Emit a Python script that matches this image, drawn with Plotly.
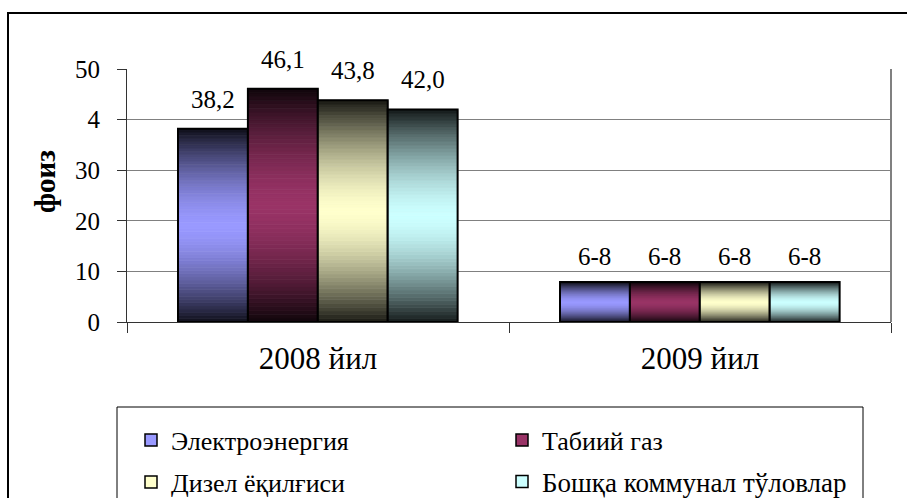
import plotly.graph_objects as go

categories = ["2008 йил", "2009 йил"]
series_names = ["Электроэнергия", "Табиий газ", "Дизел ёқилғиси", "Бошқа коммунал тўловлар"]
series_values = [
    [38.2, 7.9],
    [46.1, 7.9],
    [43.8, 7.9],
    [42.0, 7.9],
]
value_labels = [
    ["38,2", "6-8"],
    ["46,1", "6-8"],
    ["43,8", "6-8"],
    ["42,0", "6-8"],
]
series_colors = [(153, 153, 255), (153, 51, 102), (255, 255, 204), (204, 255, 255)]
ytick_vals = [0, 10, 20, 30, 40, 50]
ytick_text = ["0", "10", "20", "30", "4", "50"]

FONT = "Liberation Serif, Times New Roman, DejaVu Serif, serif"
W, H = 907, 498
L, R, T, B = 127, 16, 69, 176
PW, PH = W - L - R, H - T - B

def px_x(px):
    return (px - L) / PW

def px_y(py):
    return (H - B - py) / PH

BAR_W = 0.183
GROUP_START = -0.3665
NSEG = 60

def shade(rgb, t):
    g = 1 - abs(2 * t - 1) ** 1.6
    f = 0.1 + 0.9 * g
    r, gg, b = [int(round(c * f)) for c in rgb]
    return f"rgb({r},{gg},{b})"

legend_ids = ["legend", "legend2", "legend3", "legend4"]
legend_pos = [(131, 440), (502, 440), (131, 482), (502, 482)]
legend_sizes = [26, 26, 26, 27]

fig = go.Figure()
xs = list(range(len(categories)))
for i, (name, vals, col) in enumerate(zip(series_names, series_values, series_colors)):
    off = GROUP_START + i * BAR_W
    for k in range(NSEG):
        t = (k + 0.5) / NSEG
        c = shade(col, t)
        fig.add_trace(go.Bar(
            x=categories, y=[v / NSEG for v in vals], base=[v * k / NSEG for v in vals],
            width=BAR_W, offset=off, marker=dict(color=c, line=dict(color=c, width=0.8)),
            showlegend=False, hoverinfo="skip"))
    fig.add_trace(go.Bar(
        x=categories, y=vals, width=BAR_W, offset=off, name=name,
        marker=dict(color="rgba(0,0,0,0)", line=dict(color="black", width=2)),
        showlegend=False))
    fig.add_trace(go.Bar(
        x=[categories[0]], y=[None], name=name, width=BAR_W, offset=off,
        marker=dict(color=f"rgb{col}", line=dict(color="black", width=1.5)),
        legend=legend_ids[i], showlegend=True))
    for j, (v, lab) in enumerate(zip(vals, value_labels[i])):
        fig.add_annotation(x=xs[j] + off + BAR_W / 2, y=v, text=lab, showarrow=False,
                           yanchor="bottom", yshift=14 if j == 0 else 10,
                           font=dict(family=FONT, size=25, color="black"))

shapes = [
    dict(type="rect", xref="paper", yref="paper", x0=px_x(8), x1=px_x(930), y0=px_y(520), y1=px_y(13),
         line=dict(color="black", width=2), fillcolor="rgba(0,0,0,0)", layer="below"),
    dict(type="line", xref="paper", yref="paper", x0=1, x1=1, y0=0, y1=1,
         line=dict(color="#808080", width=2)),
    dict(type="rect", xref="paper", yref="paper", x0=px_x(117), x1=px_x(863), y0=px_y(520), y1=px_y(407),
         line=dict(color="black", width=1), fillcolor="rgba(0,0,0,0)"),
]

fig.add_annotation(text="<b>фоиз</b>", xref="paper", yref="paper", x=px_x(45), y=px_y(182),
                   xanchor="center", yanchor="middle",
                   textangle=-90, showarrow=False, font=dict(family=FONT, size=29, color="black"))

layout_legends = {}
for lid, (lx, ly), fs in zip(legend_ids, legend_pos, legend_sizes):
    layout_legends[lid] = dict(orientation="h", x=px_x(lx), y=px_y(ly), xanchor="left", yanchor="middle",
                               font=dict(family=FONT, size=fs, color="black"),
                               bgcolor="rgba(0,0,0,0)", borderwidth=0)

fig.update_layout(
    width=W, height=H, margin=dict(l=L, r=R, t=T, b=B, autoexpand=False),
    paper_bgcolor="white", plot_bgcolor="white",
    barmode="overlay", shapes=shapes,
    font=dict(family=FONT, color="black"),
    xaxis=dict(range=[-0.5, 1.5], tickson="boundaries", ticks="outside", ticklen=10,
               tickcolor="#333", showline=True, linecolor="#333", linewidth=1,
               tickfont=dict(family=FONT, size=31, color="black"), ticklabelstandoff=9,
               showgrid=False, zeroline=False),
    yaxis=dict(range=[0, 50], tickvals=ytick_vals, ticktext=ytick_text, ticks="outside",
               ticklen=9, tickcolor="#333", showline=True, linecolor="#333", linewidth=1,
               showgrid=True, gridcolor="#808080", gridwidth=1, zeroline=False,
               tickfont=dict(family=FONT, size=25, color="black"), ticklabelstandoff=12),
    **layout_legends,
)

fig.write_html("out.html", config={"displayModeBar": False},
               post_script="document.body.style.margin='0';")
